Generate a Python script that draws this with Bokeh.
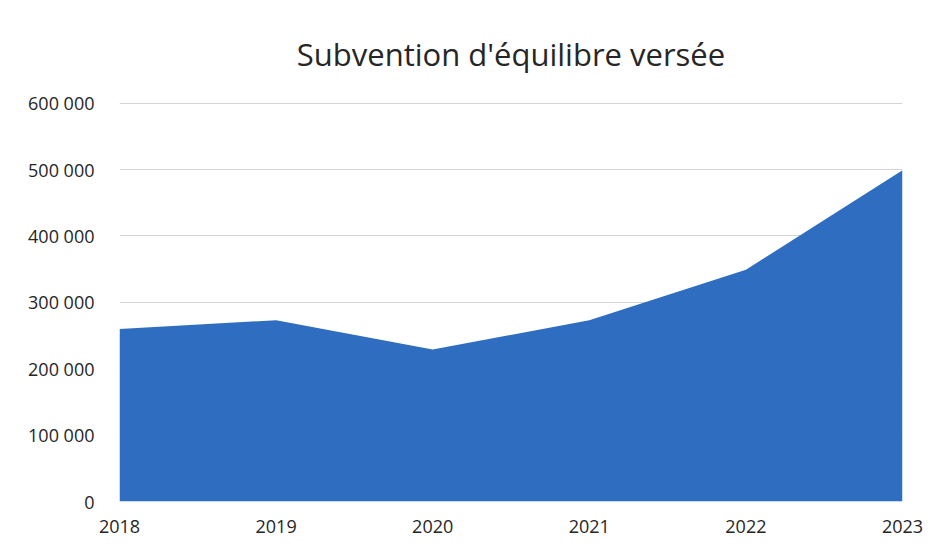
from bokeh.plotting import figure
from bokeh.models import Range1d, FixedTicker
from bokeh.embed import file_html
from bokeh.resources import INLINE

years = [2018, 2019, 2020, 2021, 2022, 2023]
values = [260000, 273000, 229000, 273000, 349000, 499000]
y_ticks = [0, 100000, 200000, 300000, 400000, 500000, 600000]
y_tick_labels = ["0", "100 000", "200 000", "300 000", "400 000", "500 000", "600 000"]
title_text = "Subvention d'équilibre versée"

FONT = "Open Sans"
TEXT = "#262626"

p = figure(width=925, height=541, output_backend="svg", toolbar_location=None,
           x_range=Range1d(2018, 2023), y_range=Range1d(0, 601000),
           min_border_left=119, min_border_right=23, min_border_top=102, min_border_bottom=40)
p.title.text = title_text
p.title.align = "center"
p.title.text_font = FONT
p.title.text_font_size = "31px"
p.title.text_font_style = "normal"
p.title.text_color = TEXT
p.title.offset = 0
p.title.standoff = 55

p.varea(x=years, y1=0, y2=values, fill_color="#2E6DBF")

p.xaxis.ticker = FixedTicker(ticks=years)
p.yaxis.ticker = FixedTicker(ticks=y_ticks)
p.yaxis.major_label_overrides = {t: l for t, l in zip(y_ticks, y_tick_labels)}
p.xaxis.major_label_overrides = {y: str(y) for y in years}
for ax in (p.xaxis, p.yaxis):
    ax.axis_line_color = None
    ax.major_tick_line_color = None
    ax.minor_tick_line_color = None
    ax.major_label_text_font = FONT
    ax.major_label_text_font_size = "18px"
    ax.major_label_text_color = TEXT
p.yaxis.major_label_standoff = 19
p.xaxis.major_label_standoff = 12

p.xgrid.grid_line_color = None
p.ygrid.grid_line_color = "#d4d4d4"
p.ygrid.grid_line_width = 1
p.outline_line_color = None
p.border_fill_color = "white"
p.background_fill_color = "white"

open("out.html", "w").write(file_html(p, INLINE))
